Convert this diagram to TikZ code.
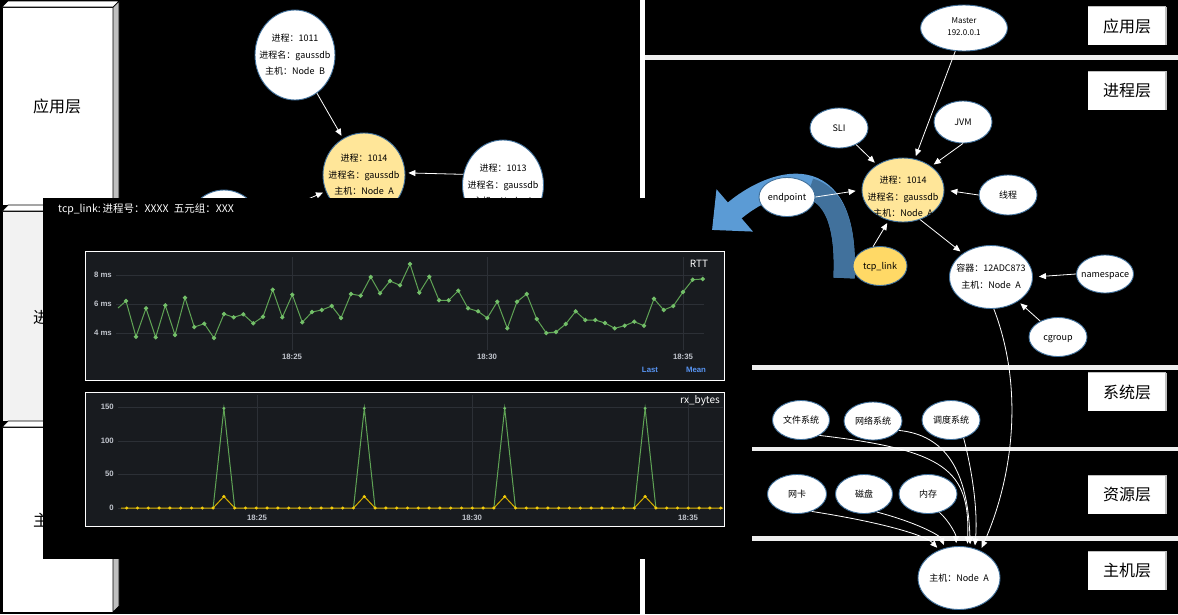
\documentclass[tikz,border=0pt]{standalone}
\usepackage{fontspec}
\setmainfont{Noto Sans CJK SC}
\newfontfamily\chartfont{Liberation Sans}
\usetikzlibrary{shapes.geometric,arrows.meta}
\definecolor{nodeedge}{HTML}{41719C}
\definecolor{yel}{HTML}{FFE699}
\definecolor{tcpy}{HTML}{FFD966}
\definecolor{panelbg}{HTML}{181B1F}
\definecolor{gridc}{HTML}{2C3036}
\definecolor{axisc}{HTML}{C0C4CC}
\definecolor{gline}{HTML}{5FA355}
\definecolor{gdot}{HTML}{73BF69}
\definecolor{yline}{HTML}{D4AE00}
\definecolor{ydot}{HTML}{F2CC0C}
\definecolor{lastblue}{HTML}{5794F2}
\definecolor{arrlight}{HTML}{5B9BD5}
\definecolor{arrdark}{HTML}{41719C}
\definecolor{sepc}{HTML}{EEEEEE}
\definecolor{boxside}{HTML}{BFBFBF}
\definecolor{boxgray}{HTML}{F2F2F2}
\newcommand\mltext[2][-2pt]{\smash{\raisebox{#1}{\makebox[0pt]{\begin{tabular}{@{}c@{}}#2\end{tabular}}}}}
\begin{document}
\begin{tikzpicture}[x=1pt,y=-1pt,
  ell/.style={ellipse, draw=nodeedge, line width=0.9pt, fill=white, inner sep=0pt, text=black},
  tx9/.style={font=\fontsize{9}{16.5}\selectfont},
  tx8/.style={font=\fontsize{8}{12}\selectfont},
  arr/.style={draw=white, line width=0.8pt, -{Triangle[length=7pt,width=6pt]}, shorten >=3pt},
  laytxt/.style={font=\fontsize{16}{19}\selectfont, text=black, inner sep=0pt},
  labbox/.style={fill=white, minimum width=78pt, minimum height=38pt, inner sep=0pt, font=\fontsize{16}{19}\selectfont, text=black},
  axl/.style={text=axisc, font=\chartfont\fontsize{7.8}{9}\selectfont\bfseries, inner sep=0pt},
  lgd/.style={text=lastblue, font=\chartfont\fontsize{7.8}{9}\selectfont\bfseries, inner sep=0pt},
  ttl/.style={text=white, font=\fontsize{10}{12}\selectfont, inner sep=0pt}]
\useasboundingbox (0,0) rectangle (1178,614);
\fill[black] (0,0) rectangle (1178,614);

% ---------- left column of layer boxes ----------
\filldraw[fill=white, draw=black, line width=0.7pt] (2,7) rectangle (113,205);
\filldraw[fill=boxside, draw=black, line width=0.7pt] (113,7) -- (119,1) -- (119,199) -- (113,205) -- cycle;
\filldraw[fill=white, draw=black, line width=0.7pt] (2,7) -- (8,1) -- (119,1) -- (113,7) -- cycle;
\node[laytxt] (L1) at (57,106) {应用层};

\filldraw[fill=boxgray, draw=black, line width=0.7pt] (2,211) rectangle (113,421);
\filldraw[fill=boxside, draw=black, line width=0.7pt] (113,211) -- (119,205) -- (119,415) -- (113,421) -- cycle;
\filldraw[fill=white, draw=black, line width=0.7pt] (2,211) -- (8,205) -- (119,205) -- (113,211) -- cycle;
\node[laytxt] (L2) at (57,318) {进程层};

\filldraw[fill=white, draw=black, line width=0.7pt] (2,427) rectangle (113,612);
\filldraw[fill=boxside, draw=black, line width=0.7pt] (113,427) -- (119,421) -- (119,606) -- (113,612) -- cycle;
\filldraw[fill=white, draw=black, line width=0.7pt] (2,427) -- (8,421) -- (119,421) -- (113,427) -- cycle;
\node[laytxt] (L3) at (57,520) {主机层};

% ---------- left graph ----------
\node[ell, tx9, minimum width=80pt, minimum height=90pt] (b1011) at (295,55) {\mltext{进程：1011\\进程名：gaussdb\\主机：Node\enspace B}};
\node[ell, tx9, fill=yel, minimum width=82pt, minimum height=84pt] (b1014) at (364,175) {\mltext{进程：1014\\进程名：gaussdb\\主机：Node\enspace A}};
\node[ell, tx9, minimum width=81pt, minimum height=90pt] (b1013) at (503,185) {\mltext{进程：1013\\进程名：gaussdb\\主机：Node\enspace A}};
\node[ell, minimum width=80pt, minimum height=90pt] (b1012) at (224,235) {};
\draw[arr] (b1011) -- (b1014);
\draw[arr] (b1013.165) -- (b1014.3);
\draw[arr] (b1012) -- (b1014);

% ---------- right panel ----------
\fill[white] (640,0) rectangle (645,614);
\fill[sepc] (645,55) rectangle (1178,59.5);
\fill[sepc] (645,365) rectangle (1178,369.5);
\fill[sepc] (645,446.5) rectangle (1178,451);
\fill[sepc] (645,536) rectangle (1178,540.5);
\node[labbox] (R1) at (1127,26) {应用层};
\node[labbox] (R2) at (1127,90.5) {进程层};
\node[labbox] (R3) at (1127,392) {系统层};
\node[labbox] (R4) at (1127,494.5) {资源层};
\node[labbox] (R5) at (1127,570.5) {主机层};
\foreach \r in {R1,R2,R3,R4,R5}{
  \draw[boxside, line width=1.5pt] (\r.north east) -- (\r.south east);
  \draw[boxside, line width=0.8pt] (\r.north west) -- (\r.north east);
}

% ---------- popup with charts ----------
\fill[black] (43,198) rectangle (752,559);
\node[anchor=west, text=white, font=\fontsize{10.5}{12}\selectfont, inner sep=0pt] (ptitle) at (58,209.5) {tcp\_link:\,进程号：XXXX\enspace 五元组：XXX};

% RTT panel
\filldraw[fill=panelbg, draw=white, line width=1pt] (85,251.5) rectangle (724,380);
\foreach \yy in {275,304,333} \draw[gridc, line width=0.8pt] (116,\yy) -- (704,\yy);
\foreach \xx in {292,487,683} \draw[gridc, line width=0.8pt] (\xx,257) -- (\xx,350);
\node[axl, anchor=east] (r8) at (112,275) {8 ms};
\node[axl, anchor=east] (r6) at (112,304) {6 ms};
\node[axl, anchor=east] (r4) at (112,333) {4 ms};
\node[axl] (ta1) at (292,357) {18:25};
\node[axl] (ta2) at (487,357) {18:30};
\node[axl] (ta3) at (683,357) {18:35};
\node[lgd] (last) at (650,369.5) {Last};
\node[lgd] (mean) at (696,369.5) {Mean};
\node[ttl] (rtt) at (699,264) {RTT};
\draw[gline, line width=1pt] (118,308) -- (126,301);
\draw[gline, line width=1pt, mark=*, mark size=1.6pt, mark options={draw=gdot, fill=gdot}] plot coordinates {
(126,301) (136,336.7) (146,308.3) (155.7,337.3) (165.3,305.3) (175,335) (185,297.7) (194.3,327) (204.3,323.7) (214,338)
(224,314) (233.7,317.3) (243.3,314.3) (253.3,323.3) (263,316.7) (272.7,289.7) (282.3,317.3) (292.3,294.7) (302.3,322.3) (312,312)
(321.7,310) (331.7,306) (341,318) (351,294) (360.7,295.7) (370.7,277) (380,293.3) (390,281) (400,285.3) (410,264)
(419.3,292.7) (429.3,276.7) (439,300.3) (448.7,300.3) (458.3,290.7) (468,308.3) (478,311.3) (487.3,318) (497.3,301.7) (507.3,328.3)
(517,301.7) (526.7,294) (536.7,319) (546.3,333) (556,332) (565.7,324) (575.7,311.3) (585.3,320) (595.3,320) (605,323)
(614.7,328.3) (624.7,325.7) (634.3,321.7) (644,325.7) (654,298.7) (663.7,310) (673.3,306) (683,292) (692.7,279.7) (702.7,279)};

% rx_bytes panel
\filldraw[fill=panelbg, draw=white, line width=1pt] (85,392) rectangle (724,526);
\foreach \yy in {407,441,474,508} \draw[gridc, line width=0.8pt] (118,\yy) -- (723,\yy);
\foreach \xx in {257,472,688} \draw[gridc, line width=0.8pt] (\xx,395) -- (\xx,508);
\node[axl, anchor=east] (q150) at (114,407) {150};
\node[axl, anchor=east] (q100) at (114,441) {100};
\node[axl, anchor=east] (q50) at (114,474) {50};
\node[axl, anchor=east] (q0) at (114,508) {0};
\node[axl] (tb1) at (257,517.5) {18:25};
\node[axl] (tb2) at (472,517.5) {18:30};
\node[axl] (tb3) at (688,517.5) {18:35};
\node[ttl] (rxb) at (700,401) {rx\_bytes};
\foreach \px in {223.9,364.3,504.7,645.1}{
  \draw[gline, line width=1pt] (\px-10.8,508) -- (\px,408.3) -- (\px+10.8,508);
  \fill[gdot] (\px,408.3) circle (1.6);
}
\draw[yline, line width=1pt] (121,508) -- (213.1,508) -- (223.9,496.5) -- (234.7,508) -- (353.5,508) -- (364.3,496.5) -- (375.1,508) -- (493.9,508) -- (504.7,496.5) -- (515.5,508) -- (634.3,508) -- (645.1,496.5) -- (655.9,508) -- (723,508);
\foreach \i in {0,...,55}{
  \pgfmathtruncatemacro\m{mod(\i,13)}
  \pgfmathsetmacro\xx{126.7+10.8*\i}
  \ifnum\m=9
    \fill[ydot] (\xx,496.5) circle (1.7);
  \else
    \fill[ydot] (\xx,508) circle (1.7);
  \fi
}

% ---------- big blue curved arrow ----------
\draw[arrlight, line width=21pt, -{Triangle[length=30pt,width=54pt]}] (844,278) .. controls (850,150) and (770,180) .. (712,230);
\draw[arrdark, line width=21pt] (844,278) .. controls (846.7,220.4) and (832,194.8) .. (809.7,188.6);

% ---------- right nodes ----------
\node[ell, tx8, minimum width=87pt, minimum height=46pt] (master) at (964,28) {\mltext[-1pt]{Master\\192.0.0.1}};
\node[ell, tx9, minimum width=58pt, minimum height=40pt] (sli) at (839,128) {\mltext{SLI}};
\node[ell, tx9, minimum width=58pt, minimum height=42pt] (jvm) at (963,122) {\mltext{JVM}};
\node[ell, tx9, fill=yel, minimum width=82pt, minimum height=64pt] (p1014) at (903,190) {\mltext[-9pt]{进程：1014\\进程名：gaussdb\\主机：Node\enspace A}};
\node[ell, tx9, minimum width=56pt, minimum height=39pt] (ep) at (787,197) {\mltext{endpoint}};
\node[ell, tx9, minimum width=58pt, minimum height=40pt] (thr) at (1008,195) {\mltext{线程}};
\node[ell, tx9, fill=tcpy, minimum width=54pt, minimum height=39pt] (tcp) at (880,266) {\mltext{tcp\_link}};
\node[ell, tx9, minimum width=83pt, minimum height=63pt] (cont) at (991,277) {\mltext{容器：12ADC873\\主机：Node\enspace A}};
\node[ell, tx9, minimum width=57pt, minimum height=38pt] (nsp) at (1105,274) {\mltext{namespace}};
\node[ell, tx9, minimum width=58pt, minimum height=39pt] (cgr) at (1058,337) {\mltext{cgroup}};
\node[ell, tx9, minimum width=57pt, minimum height=39pt] (fs) at (801,420) {\mltext{文件系统}};
\node[ell, tx9, minimum width=58pt, minimum height=38pt] (ns) at (873,421) {\mltext{网络系统}};
\node[ell, tx9, minimum width=58pt, minimum height=39pt] (dsn) at (951,420) {\mltext{调度系统}};
\node[ell, tx9, minimum width=59pt, minimum height=39pt] (wk) at (797,494) {\mltext{网卡}};
\node[ell, tx9, minimum width=57pt, minimum height=39pt] (cp) at (864,494) {\mltext{磁盘}};
\node[ell, tx9, minimum width=58pt, minimum height=39pt] (nc) at (928,494) {\mltext{内存}};
\node[ell, tx9, minimum width=82pt, minimum height=63pt] (host) at (959,578) {\mltext{主机：Node\enspace A}};

% ---------- right edges ----------
\draw[arr] (master) -- (p1014);
\draw[arr] (sli) -- (p1014);
\draw[arr] (jvm.-90) -- (p1014.40);
\draw[arr, shorten >=6pt] (ep.east) -- (p1014.west);
\draw[arr, shorten >=6pt] (thr.west) -- (p1014.east);
\draw[arr] (tcp.110) -- (p1014.-115);
\draw[arr] (p1014.-60) -- (cont.140);
\draw[arr, shorten >=6pt] (nsp.west) -- (cont.east);
\draw[arr] (cgr) -- (cont);
\draw[arr] (cont.-85) .. controls (1025,390) and (1012,480) .. (host.52);
\draw[arr] (fs.-40) .. controls (945,450) and (970,470) .. (host.75);
\draw[arr] (ns.-20) .. controls (945,435) and (968,470) .. (host.70);
\draw[arr] (dsn.-55) .. controls (972,470) and (978,510) .. (host.62);
\draw[arr] (wk.-50) .. controls (880,522) and (925,535) .. (host.125);
\draw[arr] (cp.-55) .. controls (915,522) and (940,535) .. (host.115);
\draw[arr] (nc.-58) .. controls (950,522) and (956,535) .. (host.95);
\end{tikzpicture}
\end{document}
